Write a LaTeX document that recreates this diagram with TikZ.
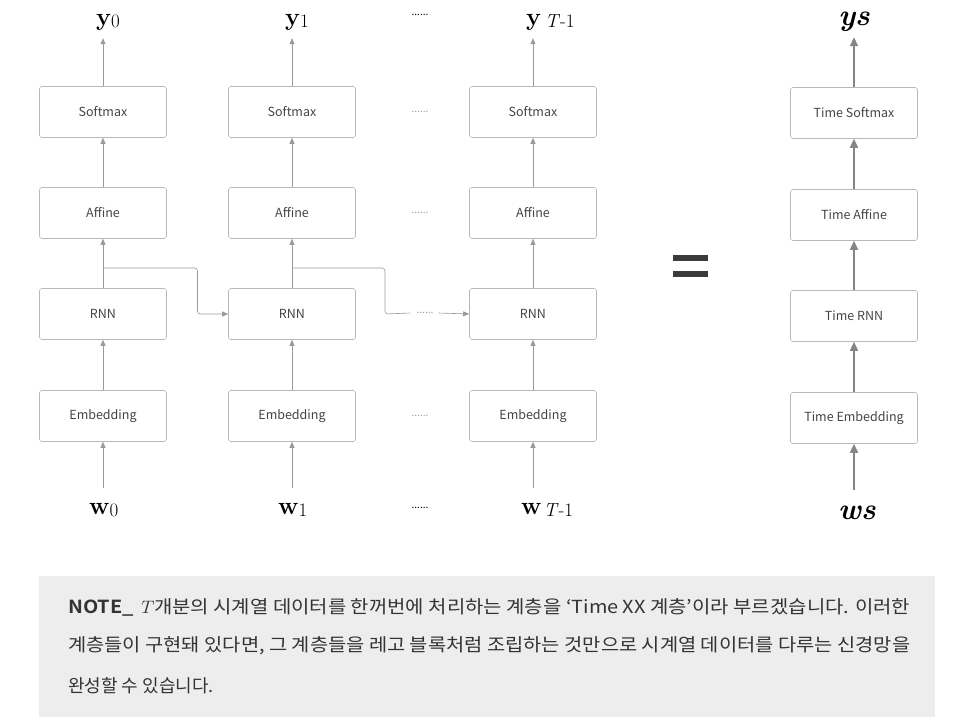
\documentclass[tikz,border=0pt]{standalone}
\usepackage{fontspec}
\usepackage{graphicx}
\usetikzlibrary{arrows.meta,calc}
\newfontfamily\kr{Noto Sans CJK KR}[BoldFont={Noto Sans CJK KR Bold}]
\definecolor{boxline}{HTML}{B8B8B8}
\definecolor{arrowc}{HTML}{9A9A9A}
\definecolor{arrowd}{HTML}{858585}
\definecolor{txt}{HTML}{444444}
\definecolor{notebg}{HTML}{EDEDED}
\definecolor{notetxt}{HTML}{333333}
\definecolor{eqc}{HTML}{3A3A3A}
\newcommand\seqlab[2]{\textbf{#1}{\fontsize{19}{19}\selectfont\raisebox{-2.5pt}{#2}}}
\newcommand\fitline[1]{\resizebox{842pt}{\height}{#1}}
\tikzset{
  layerbox/.style={draw=boxline, line width=0.6pt, rounded corners=2.5pt, minimum width=127pt, minimum height=51pt, inner sep=0pt, font=\kr\fontsize{12.5}{14}\selectfont, text=txt},
  conn/.style={draw=arrowc, line width=0.6pt, -{Triangle[width=5pt,length=6pt]}},
  connplain/.style={draw=arrowc, line width=0.6pt},
  connthick/.style={draw=arrowd, line width=1.6pt, -{Triangle[width=8pt,length=9pt]}},
  lbl/.style={inner sep=0pt, anchor=base west, font=\fontsize{25}{25}\selectfont},
  lblb/.style={inner sep=0pt, anchor=base, font=\fontsize{30}{30}\selectfont},
  dotsl/.style={inner sep=0pt, font=\kr\fontsize{10}{10}\selectfont, text=arrowc},
  dotsb/.style={inner sep=0pt, font=\kr\fontsize{10}{10}\selectfont, text=black},
  noteline/.style={anchor=west, inner sep=0pt, font=\kr\fontsize{18}{20}\selectfont, text=notetxt}
}
\begin{document}
\begin{tikzpicture}[x=1pt,y=-1pt]
\useasboundingbox (0,0) rectangle (970,728);
% columns
\foreach \n/\x in {0/103,1/292,2/533}{
  \node[layerbox] (s\n) at (\x,112) {Softmax};
  \node[layerbox] (a\n) at (\x,213) {Affine};
  \node[layerbox] (r\n) at (\x,314) {RNN};
  \node[layerbox] (e\n) at (\x,416) {Embedding};
}
% labels
\node[lbl] (y0) at (96,25) {\seqlab{y}{0}};
\node[lbl] (y1) at (285,25) {\seqlab{y}{1}};
\node[lbl] (y2) at (526,25) {\seqlab{y}{\kern4pt\textit{T}-1}};
\node[lbl] (w0) at (89,514) {\seqlab{w}{0}};
\node[lbl] (w1) at (278,514) {\seqlab{w}{1}};
\node[lbl] (w2) at (521,514) {\seqlab{w}{\kern2pt\textit{T}-1}};
\node[dotsb] (dy) at (420,15) {......};
\node[dotsb] (dw) at (420,508) {......};
\node[dotsl] (ds) at (420,112) {......};
\node[dotsl] (da) at (420,213) {......};
\node[dotsl] (de) at (420,416) {......};
% vertical arrows
\foreach \n in {0,1,2}{
  \draw[conn] (e\n.south) ++(0,46) -- (e\n.south);
  \draw[conn] (e\n) -- (r\n);
  \draw[conn] (r\n) -- (a\n);
  \draw[conn] (a\n) -- (s\n);
  \draw[conn] (s\n.north) -- ++(0,-48);
}
% recurrent connections
\coordinate (b0) at (103,268);
\coordinate (b1) at (292,268);
\coordinate (m01) at ($(r0.east)!0.5!(r1.west)$);
\coordinate (m12) at (385,314);
\node[dotsl] (dr) at (425,313) {......};
\draw[conn, rounded corners=3pt] (b0) -| (m01) -- (r1.west);
\draw[connplain, rounded corners=3pt] (b1) -| (m12) -- ([xshift=-6pt]dr.west);
\draw[conn] ([xshift=5pt]dr.east) -- (r2.west);
% equals
\fill[eqc] (673,255) rectangle (708,261);
\fill[eqc] (673,271) rectangle (708,277);
% right column
\node[layerbox] (ts) at (854,113) {Time Softmax};
\node[layerbox] (ta) at (854,215) {Time Affine};
\node[layerbox] (tr) at (854,316) {Time RNN};
\node[layerbox] (te) at (854,418) {Time Embedding};
\node[lblb] (ys) at (854,25) {\textbf{\textit{ys}}};
\node[lblb] (ws) at (857,519) {\textbf{\textit{ws}}};
\draw[connthick] (te.south) ++(0,46) -- (te.south);
\draw[connthick] (te) -- (tr);
\draw[connthick] (tr) -- (ta);
\draw[connthick] (ta) -- (ts);
\draw[connthick] (ts.north) -- ++(0,-50);
% note
\fill[notebg] (39,576) rectangle (935,717);
\node[noteline] (n1) at (68,607) {\fitline{\textbf{NOTE\_} \textit{\rmfamily T}개분의 시계열 데이터를 한꺼번에 처리하는 계층을 ‘Time XX 계층’이라 부르겠습니다. 이러한}};
\node[noteline] (n2) at (68,646) {\fitline{계층들이 구현돼 있다면, 그 계층들을 레고 블록처럼 조립하는 것만으로 시계열 데이터를 다루는 신경망을}};
\node[noteline] (n3) at (68,686) {완성할 수 있습니다.};
\end{tikzpicture}
\end{document}
